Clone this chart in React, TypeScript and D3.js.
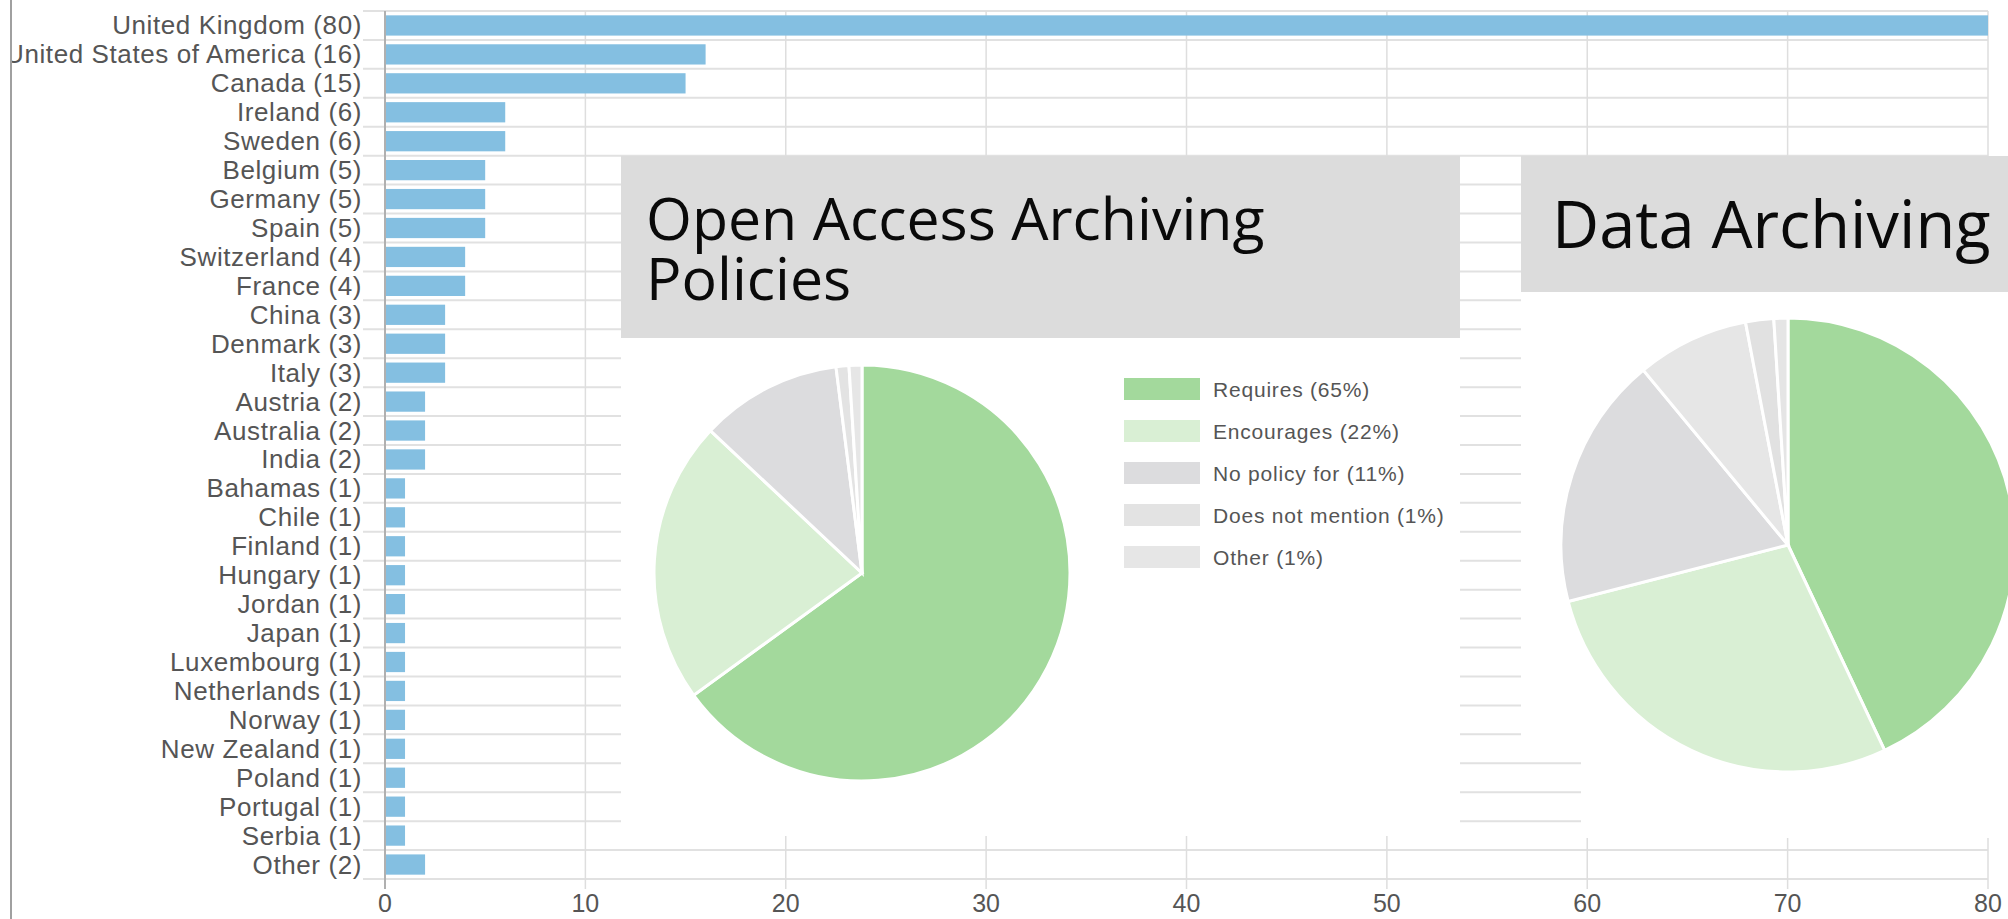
import React from "react";
import * as d3 from "d3";

const countries = [
  "United Kingdom", "United States of America", "Canada", "Ireland", "Sweden",
  "Belgium", "Germany", "Spain", "Switzerland", "France", "China", "Denmark",
  "Italy", "Austria", "Australia", "India", "Bahamas", "Chile", "Finland",
  "Hungary", "Jordan", "Japan", "Luxembourg", "Netherlands", "Norway",
  "New Zealand", "Poland", "Portugal", "Serbia", "Other",
];
const counts = [80, 16, 15, 6, 6, 5, 5, 5, 4, 4, 3, 3, 3, 2, 2, 2, 1, 1, 1, 1, 1, 1, 1, 1, 1, 1, 1, 1, 1, 2];
const xTicks = [0, 10, 20, 30, 40, 50, 60, 70, 80];

const oaTitle = ["Open Access Archiving", "Policies"];
const oaLabels = ["Requires", "Encourages", "No policy for", "Does not mention", "Other"];
const oaValues = [65, 22, 11, 1, 1];
const oaColors = ["#a3d99c", "#d9efd4", "#dcdcde", "#e3e3e3", "#e6e6e6"];

const dataTitle = "Data Archiving Policies";
const dataLabels = ["Requires", "Encourages", "No policy for", "Does not mention", "Other", "Unknown"];
const dataValues = [43, 28, 18, 8, 2, 1];
const dataColors = ["#a3d99c", "#d9efd4", "#dcdcde", "#e6e6e6", "#e1e1e1", "#e5e5e5"];

const W = 2008;
const H = 919;
const LABEL_FONT = "'Liberation Sans', Arial, sans-serif";
const TITLE_FONT = "'Open Sans', 'Noto Sans', sans-serif";

export default function App() {
  const x = d3.scaleLinear().domain([0, 80]).range([385, 1988]);
  const y = d3.scaleBand<string>().domain(countries).range([11, 879]).paddingInner(0.3).paddingOuter(0.15);
  const step = y.step();
  const top = y.range()[0];
  const boundaries = d3.range(countries.length + 1).map((i) => top + i * step);

  const pie = d3.pie<number>().sort(null).value((d) => d);
  const arc1 = d3.arc<d3.PieArcDatum<number>>().innerRadius(0).outerRadius(208);
  const arc2 = d3.arc<d3.PieArcDatum<number>>().innerRadius(0).outerRadius(227);
  const oaArcs = pie(oaValues);
  const dataArcs = pie(dataValues);

  const legendY = d3.scalePoint<string>().domain(oaLabels).range([389, 557]);

  return (
    <svg
      width={W}
      height={H}
      style={{ position: "absolute", left: 0, top: 0, background: "#fff" }}
    >
      <defs>
        <clipPath id="frame">
          <rect x={12} y={0} width={W - 12} height={H} />
        </clipPath>
      </defs>
      <rect x={0} y={0} width={W} height={H} fill="#fff" />
      <g clipPath="url(#frame)">
        {/* horizontal gridlines */}
        {boundaries.map((b, i) => (
          <line key={"h" + i} x1={363} x2={x(80)} y1={b} y2={b} stroke="#e1e1e1" strokeWidth={2} />
        ))}
        {/* vertical gridlines */}
        {xTicks.slice(1).map((t) => (
          <line key={"v" + t} x1={x(t)} x2={x(t)} y1={top} y2={889} stroke="#dedede" strokeWidth={1.5} />
        ))}
        {/* bars */}
        {countries.map((c, i) => (
          <rect
            key={c}
            x={x(0) + 1}
            y={y(c)!}
            width={x(counts[i]) - x(0) - 1}
            height={y.bandwidth()}
            fill="#84bfe1"
          />
        ))}
        {/* zero axis */}
        <line x1={x(0)} x2={x(0)} y1={top} y2={889} stroke="#b0b0b0" strokeWidth={2} />
        {/* category labels */}
        {countries.map((c, i) => (
          <text
            key={"l" + c}
            x={362}
            y={y(c)! + y.bandwidth() / 2}
            textAnchor="end"
            dominantBaseline="central"
            fontFamily={LABEL_FONT}
            fontSize={26}
            letterSpacing={0.6}
            fill="#555"
          >
            {`${c} (${counts[i]})`}
          </text>
        ))}
        {/* tick labels */}
        {xTicks.map((t) => (
          <text
            key={"t" + t}
            x={x(t)}
            y={903}
            textAnchor="middle"
            dominantBaseline="central"
            fontFamily={LABEL_FONT}
            fontSize={25}
            fill="#555"
          >
            {t}
          </text>
        ))}
      </g>
      {/* left frame line */}
      <line x1={11} x2={11} y1={0} y2={H} stroke="#a0a0a0" strokeWidth={2} />

      {/* Panel 1: Open Access Archiving Policies */}
      <rect x={621} y={156} width={1460 - 621} height={836 - 156} fill="#fff" />
      <rect x={621} y={156} width={1460 - 621} height={338 - 156} fill="#dcdcdc" />
      {oaTitle.map((line, i) => (
        <text
          key={"ot" + i}
          x={646}
          y={240 + i * 60}
          fontFamily={TITLE_FONT}
          fontSize={59}
          fill="#0a0a0a"
        >
          {line}
        </text>
      ))}
      <g transform="translate(862,573)">
        {oaArcs.map((a, i) => (
          <path key={"oa" + i} d={arc1(a)!} fill={oaColors[i]} stroke="#fff" strokeWidth={3} />
        ))}
      </g>
      {oaLabels.map((l, i) => (
        <g key={"lg" + l}>
          <rect x={1124} y={legendY(l)! - 11} width={76} height={22} fill={oaColors[i]} />
          <text
            x={1213}
            y={legendY(l)!}
            dominantBaseline="central"
            fontFamily={LABEL_FONT}
            fontSize={21}
            letterSpacing={0.8}
            fill="#555"
          >
            {`${l} (${oaValues[i]}%)`}
          </text>
        </g>
      ))}

      {/* Panel 2: Data Archiving Policies */}
      <rect x={1521} y={156} width={W - 1521} height={750 - 156} fill="#fff" />
      <rect x={1581} y={750} width={W - 1581} height={838 - 750} fill="#fff" />
      <rect x={1521} y={156} width={W - 1521} height={292 - 156} fill="#dcdcdc" />
      <text x={1552} y={248} fontFamily={TITLE_FONT} fontSize={65} fill="#0a0a0a">
        {dataTitle}
      </text>
      <g transform="translate(1788,545)">
        {dataArcs.map((a, i) => (
          <path key={"da" + i} d={arc2(a)!} fill={dataColors[i]} stroke="#fff" strokeWidth={3} />
        ))}
      </g>
    </svg>
  );
}
